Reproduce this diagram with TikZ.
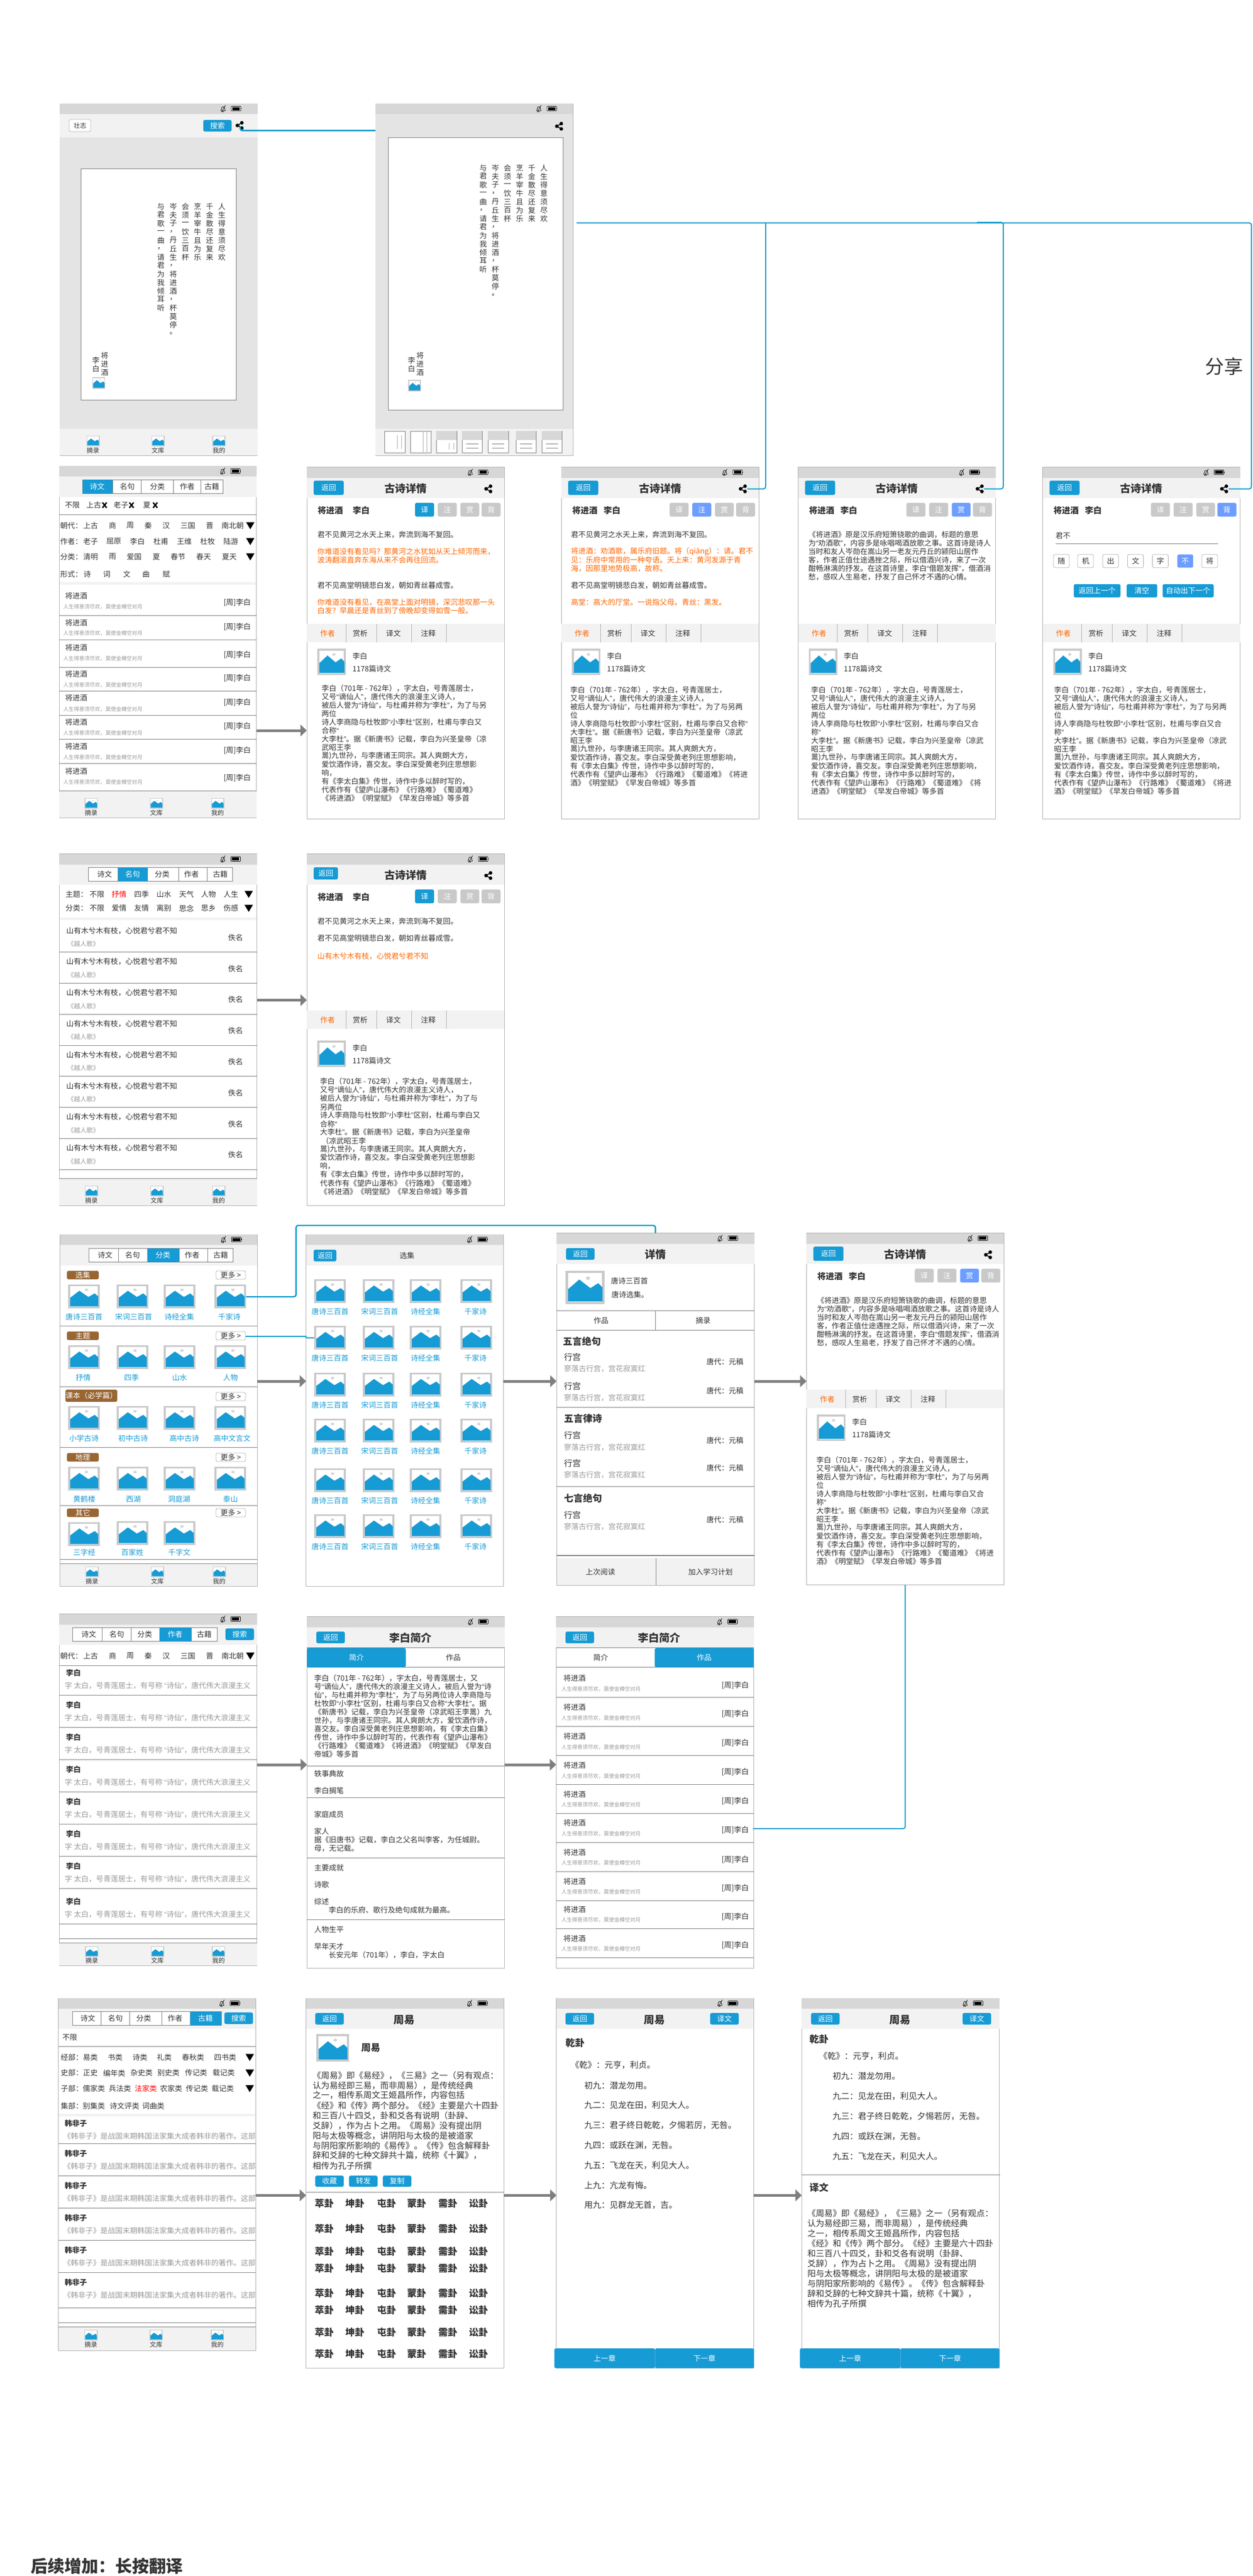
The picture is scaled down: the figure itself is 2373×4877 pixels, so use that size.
\documentclass[tikz,border=0pt]{standalone}
\usepackage{fontspec}
\setmainfont{Noto Sans CJK SC}
\newfontfamily\lf{Liberation Sans}
\usetikzlibrary{calc,arrows.meta}
\definecolor{ink}{HTML}{333333}
\definecolor{bluea}{HTML}{169BD5}
\definecolor{blueb}{HTML}{6D9EFF}
\definecolor{linkc}{HTML}{0099CC}
\definecolor{brownc}{HTML}{996633}
\definecolor{orangec}{HTML}{FF6600}
\definecolor{greyb}{HTML}{C9C9C9}
\definecolor{bandc}{HTML}{F2F2F2}
\definecolor{statc}{HTML}{D7D7D7}
\definecolor{bodyc}{HTML}{E4E4E4}
\definecolor{edgec}{HTML}{ADADAD}
\definecolor{linec}{HTML}{797979}
\definecolor{subc}{HTML}{999999}
\definecolor{arrc}{HTML}{7F7F7F}
\newcounter{tc}
\def\ql{{\lf “}}
\def\qr{{\lf ”}}
\tikzset{
  txt/.style={inner sep=0pt,outer sep=0pt,text=ink,font=\fontsize{14}{16}\selectfont},
  fs/.style={font=\fontsize{#1}{#1}\selectfont},
  bfs/.style={font=\fontsize{#1}{#1}\selectfont\bfseries},
  screenbox/.style={draw=edgec,line width=1pt,fill=white,inner sep=0pt,outer sep=0pt},
  hl/.style={draw=linec,line width=1pt},
  flow/.style={draw=arrc,line width=5pt,-{Triangle[length=12pt,width=22pt]}},
  link/.style={draw=linkc,line width=2pt,rounded corners=4pt},
  sub/.style={text=subc},
}
\newcommand{\Tx}[4][]{\stepcounter{tc}\edef\tn{t\arabic{tc}}\node[txt,anchor=west,#1] (\tn) at ({#2},{#3}) {#4};}
\newcommand{\Cx}[4][]{\stepcounter{tc}\edef\tn{t\arabic{tc}}\node[txt,anchor=center,#1] (\tn) at ({#2},{#3}) {#4};}
\newcommand{\Lines}[5][]{\expandafter\def\expandafter\tmplist\expandafter{#5}%
  \foreach \l [count=\i] in \tmplist {\pgfmathsetmacro\yy{#3+(\i-1)*#4}\Tx[#1]{#2}{\yy}{\l}}}
\newcommand{\VCol}[3]{\foreach \l [count=\i] in {#3} {\pgfmathsetmacro\yy{#2+(\i-1)*16}\Cx{#1}{\yy}{\l}}}
\newcommand{\Btn}[7][]{\fill[#6,rounded corners=3pt] ({#2},{#3}) rectangle ({#4},{#5});\Cx[text=white,#1]{(#2+#4)/2}{(#3+#5)/2}{#7}}
\newcommand{\OBtn}[6][]{\draw[edgec,fill=white,line width=.8pt,rounded corners=3pt] ({#2},{#3}) rectangle ({#4},{#5});\Cx[#1]{(#2+#4)/2}{(#3+#5)/2}{#6}}
\newcommand{\Img}[4]{\begin{scope}[shift={({#1},{#2})},x=#3pt,y=-#4pt]
  \fill[greyb] (0,0) rectangle (1,1);
  \fill[white] (.065,.07) rectangle (.935,.93);
  \fill[greyb!80] (.58,.22) circle (.055);
  \fill[bluea] (.07,.55) -- (.355,.26) -- (.64,.52) -- (.84,.37) -- (.95,.50) -- (.95,.92) -- (.07,.92) -- cycle;
\end{scope}}
\newcommand{\Share}[3]{\coordinate (#1) at (#2,#3);
  \begin{scope}[shift={(#2,#3)}]
  \draw[black,line width=1.6pt] (4,-5) -- (-4.5,0) -- (4,5);
  \fill[black] (-4.5,0) circle (3.4) (4,-5) circle (3.4) (4,5) circle (3.4);
  \end{scope}}
\newcommand{\Screen}[6]{%
  \node[screenbox,minimum width=#4pt,minimum height=#5pt,anchor=north west] (#1) at (#2,#3) {};
  \fill[bandc] (#2,#3) rectangle +(#4,#6);
  \fill[statc] (#2,#3) rectangle +(#4,20);
  \begin{scope}[shift={(#2,#3)}]
    \begin{scope}[shift={(309.5,9.7)}]
    \draw[black,line width=.8pt] (-4,4) -- (-3,0) .. controls (-3,-5) and (3,-5) .. (3,0) -- (4,4) -- cycle;
    \draw[black,line width=.8pt] (4.5,-6.5) -- (-3,6.5);
    \fill[black] (0,5.6) circle (1.1);
    \end{scope}
    \draw[black,line width=.9pt,fill=white,rounded corners=1pt] (325,5.3) rectangle (343,14);
    \fill[black] (326.5,6.6) rectangle (341,12.8);
    \fill[black] (343,8) rectangle (344,11.3);
  \end{scope}
}
\newcommand{\Nav}[9]{% bartop icontop label x1 x2 x3 sx1 sx2 bottom
  \fill[bandc] (#7,#1) rectangle (#8,#9);
  \draw[hl] (#7,#1) -- (#8,#1);
  \foreach \cx/\lab in {#4/摘录,#5/文库,#6/我的} {
    \Img{\cx-12.5}{#2}{25}{20}
    \Cx[fs=12]{\cx}{#3}{\lab}
  }
}
\newcommand{\Tabs}[9]{% x1 y1 x2 y2 dividers ax1 ax2 activeidx centres/labels
  \draw[linec,fill=white,line width=.8pt] (#1,#2) rectangle (#3,#4);
  \foreach \dv in {#5} {\draw[linec,line width=.8pt] (\dv,#2) -- (\dv,#4);}
  \fill[bluea,rounded corners=2pt] (#6,#2) rectangle (#7,#4);
  \foreach \cx/\lab [count=\i] in {#9} {
    \ifnum\i=#8\relax\def\tcol{white}\else\def\tcol{ink}\fi
    \Cx[text=\tcol]{\cx}{(#2+#4)/2}{\lab}
  }
}
\newcommand{\Tri}[2]{\fill[black] (#1-8,#2-6.5) -- (#1+8,#2-6.5) -- (#1,#2+7) -- cycle;}
\newcommand{\XMark}[2]{\draw[black,line width=2.6pt] (#1-4,#2-5) -- (#1+4,#2+5) (#1+4,#2-5) -- (#1-4,#2+5);}
\def\retA{25.5}\def\retB{52.5}\def\retC{70}
\newcommand{\Detail}[7]{% name x y activeidx activecol namegap avatardy
  \Screen{#1}{#2}{#3}{374}{666}{58.5}
  \begin{scope}[shift={(#2,#3)}]
    \Btn{13}{\retA}{\retC}{\retB}{bluea}{返回}
    \Cx[bfs=20]{187}{40.5}{古诗详情}
    \Share{sh#1}{344}{41}
    \Tx[bfs=16]{20.5}{81.5}{将进酒}
    \Tx[bfs=16]{#6}{81.5}{李白}
    \foreach \bx/\by/\lab [count=\i] in {205/241/译,248/284/注,291/326.5/赏,331/367/背} {
      \ifnum\i=#4\relax\def\bcol{#5}\else\def\bcol{greyb}\fi
      \Btn{\bx}{67.5}{\by}{93.5}{\bcol}{\lab}
    }
    \fill[bandc] (0,296.5) rectangle (374,331.5);
    \foreach \dv in {74,132,198,264} {\draw[edgec,line width=.8pt] (\dv,296.5) -- (\dv,331.5);}
    \Cx[text=orangec]{39.4}{314.5}{作者}
    \Cx{101}{314.5}{赏析}
    \Cx{164}{314.5}{译文}
    \Cx{230}{314.5}{注释}
    \Img{20}{343.5+#7}{54}{50}
    \Tx{86.5}{357.5+#7}{李白}
    \Tx{86.5}{381.5+#7}{1178篇诗文}
  \end{scope}
}
\def\bioD{李白（701年 - 762年），字太白，号青莲居士，,又号\ql 谪仙人\qr ，唐代伟大的浪漫主义诗人，,被后人誉为\ql 诗仙\qr ，与杜甫并称为\ql 李杜\qr ，为了与另,两位,诗人李商隐与杜牧即\ql 小李杜\qr 区别，杜甫与李白又,合称\ql,大李杜\qr 。据《新唐书》记载，李白为兴圣皇帝（凉,武昭王李,暠)九世孙，与李唐诸王同宗。其人爽朗大方，,爱饮酒作诗，喜交友。李白深受黄老列庄思想影,响，,有《李太白集》传世，诗作中多以醉时写的，,代表作有《望庐山瀑布》《行路难》《蜀道难》,《将进酒》《明堂赋》《早发白帝城》等多首}
\def\bioE{李白（701年 - 762年），字太白，号青莲居士，,又号\ql 谪仙人\qr ，唐代伟大的浪漫主义诗人，,被后人誉为\ql 诗仙\qr ，与杜甫并称为\ql 李杜\qr ，为了与另两,位,诗人李商隐与杜牧即\ql 小李杜\qr 区别，杜甫与李白又合称\ql,大李杜\qr 。据《新唐书》记载，李白为兴圣皇帝（凉武,昭王李,暠)九世孙，与李唐诸王同宗。其人爽朗大方，,爱饮酒作诗，喜交友。李白深受黄老列庄思想影响，,有《李太白集》传世，诗作中多以醉时写的，,代表作有《望庐山瀑布》《行路难》《蜀道难》《将进,酒》《明堂赋》《早发白帝城》等多首}
\def\bioF{李白（701年 - 762年），字太白，号青莲居士，,又号\ql 谪仙人\qr ，唐代伟大的浪漫主义诗人，,被后人誉为\ql 诗仙\qr ，与杜甫并称为\ql 李杜\qr ，为了与另,两位,诗人李商隐与杜牧即\ql 小李杜\qr 区别，杜甫与李白又合,称\ql,大李杜\qr 。据《新唐书》记载，李白为兴圣皇帝（凉武,昭王李,暠)九世孙，与李唐诸王同宗。其人爽朗大方，,爱饮酒作诗，喜交友。李白深受黄老列庄思想影响，,有《李太白集》传世，诗作中多以醉时写的，,代表作有《望庐山瀑布》《行路难》《蜀道难》《将,进酒》《明堂赋》《早发白帝城》等多首}
\def\bioG{李白（701年 - 762年），字太白，号青莲居士，,又号\ql 谪仙人\qr ，唐代伟大的浪漫主义诗人，,被后人誉为\ql 诗仙\qr ，与杜甫并称为\ql 李杜\qr ，为了与另两,位,诗人李商隐与杜牧即\ql 小李杜\qr 区别，杜甫与李白又合,称\ql,大李杜\qr 。据《新唐书》记载，李白为兴圣皇帝（凉武,昭王李,暠)九世孙，与李唐诸王同宗。其人爽朗大方，,爱饮酒作诗，喜交友。李白深受黄老列庄思想影响，,有《李太白集》传世，诗作中多以醉时写的，,代表作有《望庐山瀑布》《行路难》《蜀道难》《将进,酒》《明堂赋》《早发白帝城》等多首}
\def\bioH{李白（701年 - 762年），字太白，号青莲居士，,又号\ql 谪仙人\qr ，唐代伟大的浪漫主义诗人，,被后人誉为\ql 诗仙\qr ，与杜甫并称为\ql 李杜\qr ，为了与,另两位,诗人李商隐与杜牧即\ql 小李杜\qr 区别，杜甫与李白又,合称\ql,大李杜\qr 。据《新唐书》记载，李白为兴圣皇帝,\ （凉武昭王李,暠)九世孙，与李唐诸王同宗。其人爽朗大方，,爱饮酒作诗，喜交友。李白深受黄老列庄思想影,响，,有《李太白集》传世，诗作中多以醉时写的，,代表作有《望庐山瀑布》《行路难》《蜀道难》,《将进酒》《明堂赋》《早发白帝城》等多首}
\def\shang{《将进酒》原是汉乐府短箫铙歌的曲调，标题的意思,为\ql 劝酒歌\qr ，内容多是咏唱喝酒放歌之事。这首诗是诗人,当时和友人岑勋在嵩山另一老友元丹丘的颍阳山居作,客，作者正值仕途遇挫之际，所以借酒兴诗，来了一次,酣畅淋漓的抒发。在这首诗里，李白\ql 借题发挥\qr ，借酒消,愁，感叹人生易老，抒发了自己怀才不遇的心情。}
\def\zhouyi{《周易》即《易经》，《三易》之一（另有观点：,认为易经即三易，而非周易），是传统经典,之一，相传系周文王姬昌所作，内容包括,《经》和《传》两个部分。《经》主要是六十四卦,和三百八十四爻，卦和爻各有说明（卦辞、,爻辞），作为占卜之用。《周易》没有提出阴,阳与太极等概念，讲阴阳与太极的是被道家,与阴阳家所影响的《易传》。《传》包含解释卦,辞和爻辞的七种文辞共十篇，统称《十翼》，,相传为孔子所撰}
\begin{document}
\begin{tikzpicture}[x=1pt,y=-1pt]
\useasboundingbox (0,0) rectangle (2373,4877);
\fill[white] (0,0) rectangle (2373,4877);

%% ---------- row 1
\Screen{scrA}{113}{196}{374.6}{666}{64}
\fill[bodyc] (113,260) rectangle (487.6,812);
\fill[bandc] (113,812) rectangle (487.6,862);
\draw[linec,fill=white,line width=1pt] (153.7,319.6) rectangle (447.6,757.5);
\OBtn[fs=12]{131}{226}{172}{249}{壮志}
\Btn{385}{227}{438.5}{249}{bluea}{搜索}
\Share{shA}{454}{237.5}
\VCol{420}{391}{人,生,得,意,须,尽,欢}
\VCol{397}{391}{千,金,散,尽,还,复,来}
\VCol{374}{391}{烹,羊,宰,牛,且,为,乐}
\VCol{351}{391}{会,须,一,饮,三,百,杯}
\VCol{328}{391}{岑,夫,子,，,丹,丘,生,，,将,进,酒,，,杯,莫,停,。}
\VCol{304.5}{391}{与,君,歌,一,曲,，,请,君,为,我,倾,耳,听}
\VCol{198}{673}{将,进,酒}
\VCol{181.7}{682.5}{李,白}
\Img{174.7}{714}{24.5}{22}
\foreach \cx/\lab in {176/摘录,299/文库,414.6/我的} {\Img{\cx-12.5}{825}{25}{20}\Cx[fs=12]{\cx}{853}{\lab}}

\Screen{scrB}{711}{196}{374}{666}{64}
\fill[bodyc] (711,216) rectangle (1085,812);
\fill[bandc] (711,812) rectangle (1085,862);
\draw[linec,fill=white,line width=1pt] (735,260.6) rectangle (1066,776);
\Share{shB}{1059}{239}
\VCol{1030}{318}{人,生,得,意,须,尽,欢}
\VCol{1007}{318}{千,金,散,尽,还,复,来}
\VCol{984}{318}{烹,羊,宰,牛,且,为,乐}
\VCol{961}{318}{会,须,一,饮,三,百,杯}
\VCol{938}{318}{岑,夫,子,，,丹,丘,生,，,将,进,酒,，,杯,莫,停,。}
\VCol{915}{318}{与,君,歌,一,曲,，,请,君,为,我,倾,耳,听}
\VCol{795.6}{673}{将,进,酒}
\VCol{779.4}{682.5}{李,白}
\Img{773}{719}{24}{22}
\foreach \xa/\xb in {728/767,777/816} {\draw[linec,fill=white,line width=.8pt] (\xa,816) rectangle (\xb,857.5);}
\foreach \xa/\xb in {826/865,875/913,924/963,977/1015,1026/1064} {
  \draw[linec,fill=white,line width=.8pt] (\xa,816) rectangle (\xb,857.5);
  \fill[statc] (\xa,816) rectangle (\xb,832.5);}
\draw[edgec,line width=.8pt] (752,824) -- (752,849.5) (760.5,824) -- (760.5,849.5) (801,816) -- (801,857.5) (808,816) -- (808,857.5);
\draw[edgec,line width=.8pt] (850,839) -- (850,851) (859,839) -- (859,851);
\foreach \xa in {883,932,985,1034} {\draw[linec,line width=.8pt] (\xa,840) -- ++(23,0) (\xa,848) -- ++(23,0);}

\draw[link,line width=3pt] ($(shA)+(1,7)$) |- (scrB.west |- 0,247);
\coordinate (busL) at (1092,422);
\Cx[fs=36]{2318}{693.5}{分享}

%% ---------- row 2
\Screen{scrC}{112}{882.3}{373.5}{666}{58.7}
\Tabs{156.6}{908}{422}{934.5}{213,267,328,380.5}{156.6}{213}{1}{184/诗文,241/名句,298/分类,354.5/作者,401/古籍}
\Tx{123}{956.4}{不限}
\Tx{163.5}{956.4}{上古}\XMark{198}{956.4}
\Tx{215}{956.4}{老子}\XMark{249}{956.4}
\Tx{271}{956.4}{夏}\XMark{294}{956.4}
\draw[hl] (112,974.7) -- (485.5,974.7);
\Tx{114}{995}{朝代：}
\foreach \cx/\lab in {171.5/上古,213/商,246.7/周,280.6/秦,314.5/汉,355.8/三国,397/晋,440.7/南北朝} {\Cx{\cx}{995}{\lab}}
\Tri{474}{995}
\Tx{114}{1025}{作者：}
\foreach \cx/\lab in {171.5/老子,215.7/屈原,260/李白,304.7/杜甫,349/王维,393/杜牧,437/陆游} {\Cx{\cx}{1025}{\lab}}
\Tri{474}{1025}
\Tx{114}{1054}{分类：}
\foreach \cx/\lab in {171.5/清明,213/雨,254/爱国,296/夏,337/春节,385.6/春天,434.4/夏天} {\Cx{\cx}{1054}{\lab}}
\Tri{474}{1054}
\Tx{114}{1087}{形式：}
\foreach \cx/\lab in {165/诗,202/词,240/文,276.6/曲,315/赋} {\Cx{\cx}{1087}{\lab}}
\fill[bandc] (112.5,1102.4) rectangle (485,1107);
\foreach \ty/\sy/\ry/\dv in {1128/1148.4/1141/1165,1179/1199/1187/1211,1226/1246.6/1239.5/1263,1276/1296.6/1284/1308.7,1321.6/1342.6/1330/1354.6,1366.7/1387.7/1375/1399,1413/1433.7/1421/1445} {
  \Tx{123.3}{\ty}{将进酒}
  \Tx[fs=10,sub]{119.9}{\sy}{人生得意须尽欢，莫使金樽空对月}
  \Tx{423.5}{\ry}{[周]李白}
  \draw[hl] (112,\dv) -- (485.5,\dv);
}
\Tx{123.3}{1460}{将进酒}
\Tx[fs=10,sub]{119.9}{1480.5}{人生得意须尽欢，莫使金樽空对月}
\Tx{423.5}{1473}{[周]李白}
\Nav{1497.5}{1511}{1538.6}{172.7}{296}{412}{112}{485.5}{1548.3}

\Detail{scrD}{581}{884.5}{1}{bluea}{87}{0}
\Lines[]{601}{1012}{16}{君不见黄河之水天上来，奔流到海不复回。}
\Lines[text=orangec]{601}{1044}{16}{你难道没有看见吗？那黄河之水犹如从天上倾泻而来，,波涛翻滚直奔东海从来不会再往回流。}
\Lines[]{601}{1108}{16}{君不见高堂明镜悲白发，朝如青丝暮成雪。}
\Lines[text=orangec]{601}{1140}{16}{你难道没有看见，在高堂上面对明镜，深沉悲叹那一头,白发？早晨还是青丝到了傍晚却变得如雪一般。}
\Lines[]{609}{1303}{16}{\bioD}

\Detail{scrE}{1063}{884.5}{2}{blueb}{80}{0}
\Lines[]{1081.4}{1012}{16}{君不见黄河之水天上来，奔流到海不复回。}
\Lines[text=orangec]{1081.4}{1044}{16}{将进酒：劝酒歌，属乐府旧题。将（qiāng）：请。君不,见：乐府中常用的一种夸语。天上来：黄河发源于青,海，因那里地势极高，故称。}
\Lines[]{1081.4}{1108}{16}{君不见高堂明镜悲白发，朝如青丝暮成雪。}
\Lines[text=orangec]{1081.4}{1140}{16}{高堂：高大的厅堂。一说指父母。青丝：黑发。}
\Lines[]{1080}{1306}{16}{\bioE}

\Detail{scrF}{1511.6}{884.5}{3}{blueb}{80}{0}
\Lines[]{1531}{1012}{16}{\shang}
\Lines[]{1536}{1306}{16}{\bioF}

\Detail{scrG}{1974.5}{884.5}{4}{blueb}{80}{0}
\Tx{1999}{1015}{君不}
\draw[linec,line width=1pt] (1999,1029.6) -- (2307,1029.6);
\foreach \cx/\lab in {2010/随,2056/机,2103.3/出,2150.5/文,2197.6/字,2291/将} {\OBtn{\cx-15}{1049.7}{\cx+15}{1074.7}{\lab}}
\Btn{2229.7}{1049.7}{2259.7}{1074.7}{blueb}{不}
\Btn{2033.5}{1106}{2122}{1131}{bluea}{返回上一个}
\Btn{2133.6}{1106}{2191.7}{1131}{bluea}{清空}
\Btn{2201.8}{1106}{2298.6}{1131}{bluea}{自动出下一个}
\Lines[]{1996.4}{1306}{16}{\bioG}

\draw[flow] (scrC.east |- 0,1383) -- (scrD.west |- 0,1383);
\draw[link] ($(shscrE)+(8,0)$) -| (1450,422);
\draw[link] ($(shscrF)+(8,0)$) -| (1900,421) -- (1850,421);
\draw[link] ($(shscrG)+(8,0)$) -| (2370,422) -- (busL);

%% ---------- row 3
\Screen{scrH}{112.4}{1616.6}{374.3}{665.4}{58.4}
\Tabs{167.5}{1642}{440.7}{1668.5}{223.8,279.4,338.6,392.5}{223.8}{279.4}{2}{198/诗文,251/名句,307/分类,362.7/作者,417.2/古籍}
\Tx{124}{1693}{主题：}
\foreach \cx/\lab in {183.6/不限,268/四季,310.4/山水,353/天气,394.8/人物,437.3/人生} {\Cx{\cx}{1693}{\lab}}
\Cx[text=red]{225.5}{1693}{抒情}
\Tri{471}{1693}
\Tx{124}{1719.5}{分类：}
\foreach \cx/\lab in {183.6/不限,225.5/爱情,268/友情,310.4/离别,353/思念,394.8/思乡,437.3/伤感} {\Cx{\cx}{1719.5}{\lab}}
\Tri{471}{1719.5}
\fill[bandc] (112.9,1737) rectangle (486.2,1742);
\foreach \k in {0,...,7} {
  \pgfmathsetmacro\ty{1762+58.8*\k}\pgfmathsetmacro\sy{1787+58.8*\k}\pgfmathsetmacro\ry{1775+58.8*\k}\pgfmathsetmacro\dv{1802.6+58.8*\k}
  \Tx{125.6}{\ty}{山有木兮木有枝，心悦君兮君不知}
  \Tx[fs=12,sub]{127.9}{\sy}{《越人歌》}
  \Cx{446}{\ry}{佚名}
  \draw[hl] (112.4,\dv) -- (486.7,\dv);
}
\Nav{2231.4}{2245}{2272.7}{173}{297}{414}{112.4}{486.7}{2281.5}

\def\retA{25.4}\def\retB{48.4}\def\retC{59}
\Detail{scrI}{581}{1616.6}{1}{bluea}{87}{10}
\def\retA{25.5}\def\retB{52.5}\def\retC{70}
\Lines[]{601}{1744}{32}{君不见黄河之水天上来，奔流到海不复回。,君不见高堂明镜悲白发，朝如青丝暮成雪。}
\Tx[text=orangec]{601}{1810.4}{山有木兮木有枝，心悦君兮君不知}
\Lines[]{606}{2047.7}{16}{\bioH}
\draw[flow] (scrH.east |- 0,1893.5) -- (scrI.west |- 0,1893.5);

%% ---------- row 4
\Screen{scrJ}{113.5}{2337}{373.5}{666.5}{59}
\Tabs{168.6}{2363.6}{441.3}{2389.5}{224.3,279.4,339,393}{279.4}{339}{3}{199/诗文,251/名句,308.7/分类,363.8/作者,417.8/古籍}
\newcommand{\Sec}[7]{% tagx2 tagy1 tagy2 tagtext morey1 morey2 divider
  \Btn{126.7}{#2}{#1}{#3}{brownc}{#4}
  \OBtn{409}{#5}{465}{#6}{更多 >}
  \draw[hl] (113.5,#7) -- (487,#7);}
\Sec{187}{2406}{2422}{选集}{2406}{2422}{2510.4}
\Sec{187}{2521}{2537}{主题}{2521}{2537}{2625.6}
\fill[brownc,rounded corners=3pt] (123.9,2631) rectangle (222,2654);
\Cx[text=white]{173}{2642.5}{课本（必学篇）}
\OBtn{409}{2636}{465}{2652}{更多 >}
\draw[hl] (113.5,2740.4) -- (487,2740.4);
\Sec{187}{2751}{2767}{地理}{2751}{2767}{2850.6}
\Sec{187}{2856}{2872}{其它}{2856}{2872}{2952.4}
\foreach \cx in {129,220.9,309.9} {\Img{\cx}{2432}{60}{45}\Img{\cx}{2547}{60}{45}\Img{\cx}{2662}{60}{45}\Img{\cx}{2777}{60}{45}}
\foreach \yt in {2432,2547,2662,2777} {\Img{406.3}{\yt}{60}{45}}
\Img{129}{2882}{60}{45}\Img{220.9}{2880}{60}{45}\Img{309.9}{2880}{60}{45}
\foreach \cx/\lab in {159/唐诗三百首,253/宋词三百首,339.7/诗经全集,434.4/千家诗} {\Cx[text=bluea]{\cx}{2493}{\lab}}
\foreach \cx/\lab in {157.7/抒情,249/四季,340/山水,436.7/人物} {\Cx[text=bluea]{\cx}{2607.8}{\lab}}
\foreach \cx/\lab in {159/小学古诗,252/初中古诗,349/高中古诗,439.6/高中文言文} {\Cx[text=bluea]{\cx}{2723.4}{\lab}}
\foreach \cx/\lab in {159.5/黄鹤楼,252.5/西湖,339/洞庭湖,436.7/泰山} {\Cx[text=bluea]{\cx}{2838}{\lab}}
\foreach \cx/\lab in {159.5/三字经,250.7/百家姓,339.7/千字文} {\Cx[text=bluea]{\cx}{2939.5}{\lab}}
\Nav{2960.4}{2966}{2994}{174}{298}{415}{113.5}{487}{3003}

\Screen{scrK}{579.7}{2337}{373.7}{666.5}{59}
\Btn{594}{2366}{637}{2388}{bluea}{返回}
\Cx{770.8}{2377.4}{选集}
\foreach \yt/\yl in {2422/2483,2510/2571,2599/2660.4,2686/2747,2780/2841,2867/2928} {
  \foreach \ix/\cx/\lab in {595/625/唐诗三百首,687/719/宋词三百首,776/805.8/诗经全集,872/900.6/千家诗} {
    \Img{\ix}{\yt}{60}{45}
    \Cx[text=bluea]{\cx}{\yl}{\lab}
  }
}

\Screen{scrL}{1054}{2334.6}{374.6}{666.4}{58.4}
\Btn{1072}{2363}{1126}{2385}{bluea}{返回}
\Cx[bfs=20]{1241.7}{2375}{详情}
\Img{1070.8}{2406}{74}{63}
\Tx{1157}{2425}{唐诗三百首}
\Tx{1158}{2451}{唐诗选集。}
\draw[hl] (1054,2481.4) -- (1428.6,2481.4) (1054,2518.5) -- (1428.6,2518.5) (1241.7,2481.4) -- (1241.7,2518.5);
\Cx{1138.4}{2500}{作品}
\Cx{1331.6}{2500}{摘录}
\Tx[bfs=18]{1066}{2539.5}{五言绝句}
\Tx[bfs=18]{1068}{2686}{五言律诗}
\Tx[bfs=18]{1068}{2836.3}{七言绝句}
\foreach \ty/\sy/\ry in {2569/2591/2578,2624/2646/2633,2717.6/2740/2727.4,2770/2792/2779,2868/2890/2877.4} {
  \Tx[fs=16]{1068}{\ty}{行宫}
  \Tx[sub]{1068}{\sy}{寥落古行宫，宫花寂寞红}
  \Tx{1338}{\ry}{唐代：元稹}
}
\draw[hl] (1054,2664.5) -- (1428.6,2664.5) (1054,2814.5) -- (1428.6,2814.5);
\draw[linec,line width=1.5pt] (1054,2945) -- (1428.6,2945);
\fill[bandc] (1054.5,2950) rectangle (1428,3000.5);
\draw[linec,line width=.8pt] (1242.4,2950) -- (1242.4,3001);
\Cx{1137}{2976}{上次阅读}
\Cx{1345.7}{2976}{加入学习计划}

\Detail{scrM}{1527.4}{2334.6}{3}{blueb}{80}{0}
\Lines[]{1547}{2462}{16}{\shang}
\Lines[]{1546}{2764}{16}{\bioG}

\draw[flow] (scrJ.east |- 0,2615) -- (scrK.west |- 0,2615);
\draw[flow] (scrK.east |- 0,2615) -- (scrL.west |- 0,2615);
\draw[flow] (scrL.east |- 0,2615) -- (scrM.west |- 0,2615);
\coordinate (pick) at (466,2455);
\coordinate (more) at (465,2530);
\coordinate (kimg) at (595,2532.8);
\draw[link,line width=2.5pt] (pick) -| (560.7,2320) -| (scrL.north);
\draw[link,rounded corners=1pt] (more) -- (579.7,2530) -- (579.7,2532.8) -- (kimg);

%% ---------- row 5
\Screen{scrN}{112.4}{3055.6}{374.3}{666}{58.4}
\Tabs{137.6}{3081.5}{411}{3107.4}{193.3,247.9,302.4,362.7}{302.4}{362.7}{4}{168/诗文,221/名句,274/分类,331.7/作者,386.8/古籍}
\Btn{427}{3083}{481}{3105}{bluea}{搜索}
\Tx{114}{3135}{朝代：}
\foreach \cx/\lab in {171.5/上古,213/商,246.7/周,280.6/秦,314.5/汉,355.8/三国,397/晋,440.7/南北朝} {\Cx{\cx}{3135}{\lab}}
\Tri{474}{3135}
\draw[hl] (112.4,3153.4) -- (486.7,3153.4);
\foreach \ty/\sy/\dv in {3167/3191/3209.6,3228/3252/3270.4,3289/3313/3331.5,3350/3374/3392,3411/3435/3453.4,3472/3496/3514.5,3533/3557/3575,3600/3624.4/3642} {
  \Tx[bfs=14]{125}{\ty}{李白}
  \Tx[sub]{122.7}{\sy}{字 太白，号青莲居士，有号称 \ql 诗仙\qr ，唐代伟大浪漫主义}
  \draw[hl] (112.4,\dv) -- (486.7,\dv);
}
\draw[hl] (112.4,3670.4) -- (486.7,3670.4);
\Nav{3678.4}{3685}{3712}{173.8}{298}{413.8}{112.4}{486.7}{3721.4}

\Screen{scrO}{581.4}{3060.5}{374.3}{666}{59}
\Btn{599}{3089}{653}{3111}{bluea}{返回}
\Cx[bfs=20]{777}{3101}{李白简介}
\draw[hl] (581.4,3119.5) -- (955.7,3119.5) (581.4,3156.5) -- (955.7,3156.5);
\fill[bluea,rounded corners=3pt] (581.4,3120) rectangle (768.5,3156.5);
\Cx[text=white]{675}{3138}{简介}
\Cx{858.6}{3138}{作品}
\Lines[]{595}{3177}{16}{李白（701年 - 762年），字太白，号青莲居士，又,号\ql 谪仙人\qr ，唐代伟大的浪漫主义诗人，被后人誉为\ql 诗,仙\qr ，与杜甫并称为\ql 李杜\qr ，为了与另两位诗人李商隐与,杜牧即\ql 小李杜\qr 区别，杜甫与李白又合称\ql 大李杜\qr 。据,《新唐书》记载，李白为兴圣皇帝（凉武昭王李暠）九,世孙，与李唐诸王同宗。其人爽朗大方，爱饮酒作诗，,喜交友。李白深受黄老列庄思想影响，有《李太白集》,传世，诗作中多以醉时写的，代表作有《望庐山瀑布》,《行路难》《蜀道难》《将进酒》《明堂赋》《早发白,帝城》等多首}
\draw[hl] (581.4,3343.6) -- (955.7,3343.6) (581.4,3403.4) -- (955.7,3403.4) (581.4,3517) -- (955.7,3517) (581.4,3634.6) -- (955.7,3634.6);
\Tx{595}{3358}{轶事典故}
\Tx{595}{3390.4}{李白搁笔}
\Tx{595}{3435}{家庭成员}
\Tx{595}{3467}{家人}
\Tx{595}{3483}{据《旧唐书》记载，李白之父名叫李客，为任城尉。}
\Tx{595}{3499}{母，无记载。}
\Tx{595}{3536.4}{主要成就}
\Tx{595}{3568.6}{诗歌}
\Tx{595}{3600}{综述}
\Tx{622.7}{3616}{李白的乐府、歌行及绝句成就为最高。}
\Tx{595}{3653.4}{人物生平}
\Tx{595}{3685}{早年天才}
\Tx{622.7}{3701}{长安元年（701年），李白，字太白}

\Screen{scrP}{1053.3}{3060.5}{374.4}{666}{59}
\Btn{1071}{3089}{1125}{3111}{bluea}{返回}
\Cx[bfs=20]{1248.7}{3101}{李白简介}
\draw[hl] (1053.3,3119.5) -- (1427.7,3119.5);
\fill[bluea,rounded corners=3pt] (1240,3120) rectangle (1427.7,3156.5);
\draw[hl] (1053.3,3156.5) -- (1427.7,3156.5);
\Cx{1137.7}{3138}{简介}
\Cx[text=white]{1333.7}{3138}{作品}
\foreach \ty/\sy/\ry/\dv in {3177/3197.6/3190.4/3213.7,3232/3252.5/3245/3268.6,3287/3307.4/3300/3323.5,3341.8/3362.3/3355/3378.4,3396.7/3417/3410/3433.3,3451.6/3472/3465/3488.7,3507/3527/3520.4/3543.6,3562/3582/3575/3598.5,3615/3635/3628.4/3651.6,3670/3690/3683/3706.5} {
  \Tx{1067}{\ty}{将进酒}
  \Tx[fs=10,sub]{1063.3}{\sy}{人生得意须尽欢，莫使金樽空对月}
  \Tx{1366.7}{\ry}{[周]李白}
  \draw[hl] (1053.3,\dv) -- (1427.7,\dv);
}
\draw[flow] (scrN.east |- 0,3341) -- (scrO.west |- 0,3341);
\draw[flow] (scrO.east |- 0,3341) -- (scrP.west |- 0,3341);
\coordinate (authorrow) at (1426,3462);
\draw[link] (scrM.south) |- (authorrow);

%% ---------- row 6
\Screen{scrQ}{110.7}{3783}{373.7}{667.6}{58}
\Tabs{137.3}{3808.3}{419}{3834.5}{191.6,245.6,306.4,360.4}{360.4}{419}{5}{166.3/诗文,218.6/名句,272/分类,331.7/作者,389/古籍}
\Btn{425}{3810}{479}{3832}{bluea}{搜索}
\Tx{118}{3857}{不限}
\draw[hl] (110.7,3874.7) -- (484.4,3874.7);
\Tx{115}{3895}{经部：}
\foreach \cx/\lab in {171/易类,218/书类,265/诗类,311/礼类,365.5/春秋类,426.4/四书类} {\Cx{\cx}{3895}{\lab}}
\Tri{473}{3895}
\Tx{115}{3924.6}{史部：}
\foreach \cx/\lab in {171/正史,216.3/编年类,268/杂史类,319/别史类,371.3/传记类,423.5/载记类} {\Cx{\cx}{3924.6}{\lab}}
\Tri{473}{3924.6}
\Tx{115}{3954}{子部：}
\foreach \cx/\lab in {177.8/儒家类,227/兵法类,324/农家类,373/传记类,421.8/载记类} {\Cx{\cx}{3954}{\lab}}
\Cx[text=red]{276}{3954}{法家类}
\Tri{473}{3954}
\Tx{115}{3987}{集部：}
\foreach \cx/\lab in {177.8/别集类,235.8/诗文评类,290.3/词曲类} {\Cx{\cx}{3987}{\lab}}
\fill[bandc] (111.2,4002) rectangle (483.9,4007);
\foreach \ty/\sy/\dv in {4020/4044/4058.4,4077.3/4101/4119.5,4138.4/4162/4180.6,4199.5/4223/4241.6,4260.5/4284/4302.7,4321/4345/4369.6} {
  \Tx[bfs=14]{122.7}{\ty}{韩非子}
  \Tx[sub]{120}{\sy}{《韩非子》是战国末期韩国法家集大成者韩非的著作。这部}
  \draw[hl] (110.7,\dv) -- (484.4,\dv);
}
\draw[hl] (110.7,4397.7) -- (484.4,4397.7);
\Nav{4405.5}{4411}{4439}{172}{295.5}{411.5}{110.7}{484.4}{4450}

\Screen{scrR}{579.7}{3783}{374.3}{700.5}{58}
\Btn{597}{3811}{651}{3833}{bluea}{返回}
\Cx[bfs=20]{765.7}{3824.8}{周易}
\Img{599}{3851}{62}{52}
\Tx[bfs=18]{684.7}{3877}{周易}
\Lines[fs=16]{592}{3929}{19}{\zhouyi}
\Btn{597}{4119}{651}{4140}{bluea}{收藏}
\Btn{661}{4119}{715}{4140}{bluea}{转发}
\Btn{725}{4119}{779}{4140}{bluea}{复制}
\draw[hl] (579.7,4150.5) -- (954,4150.5);
\foreach \gy in {4171.8,4219.8,4263,4295,4342,4374,4415.7,4457} {
  \foreach \cx/\lab in {614.7/萃卦,672.7/坤卦,732.4/屯卦,789.8/蒙卦,848.9/需卦,906.9/讼卦} {
    \Cx[bfs=18]{\cx}{\gy}{\lab}
  }
}

\Screen{scrS}{1053.9}{3783}{373.1}{700.5}{58}
\Btn{1071}{3811}{1125}{3833}{bluea}{返回}
\Cx[bfs=20]{1239.3}{3824.8}{周易}
\Btn{1345}{3811}{1399}{3833}{bluea}{译文}
\Tx[bfs=18]{1071}{3868}{乾卦}
\Tx[fs=16]{1081}{3909.6}{《乾》：元亨，利贞。}
\Lines[fs=16]{1106.7}{3948}{37.8}{初九：潜龙勿用。,九二：见龙在田，利见大人。,九三：君子终日乾乾，夕惕若厉，无咎。,九四：或跃在渊，无咎。,九五：飞龙在天，利见大人。,上九：亢龙有悔。,用九：见群龙无首，吉。}
\Btn{1049.9}{4446}{1240.4}{4483.5}{bluea}{上一章}
\Btn{1240.4}{4446}{1428}{4483.5}{bluea}{下一章}

\Screen{scrT}{1518.3}{3783}{374.3}{700.5}{58}
\Btn{1536}{3811}{1590}{3833}{bluea}{返回}
\Cx[bfs=20]{1704.3}{3824.8}{周易}
\Btn{1823}{3811}{1877}{3833}{bluea}{译文}
\Tx[bfs=18]{1533}{3860.6}{乾卦}
\Tx[fs=16]{1551}{3892.6}{《乾》：元亨，利贞。}
\Lines[fs=16]{1576.8}{3930.4}{38.1}{初九：潜龙勿用。,九二：见龙在田，利见大人。,九三：君子终日乾乾，夕惕若厉，无咎。,九四：或跃在渊，无咎。,九五：飞龙在天，利见大人。}
\draw[hl] (1517.5,4117.6) -- (1894,4117.6);
\Tx[bfs=18]{1533}{4141.8}{译文}
\Lines[fs=16]{1529}{4190.7}{19}{\zhouyi}
\Btn{1514.8}{4446}{1705.4}{4483.5}{bluea}{上一章}
\Btn{1705.4}{4446}{1893}{4483.5}{bluea}{下一章}

\draw[flow] (scrQ.east |- 0,4156.3) -- (scrR.west |- 0,4156.3);
\draw[flow] (scrR.east |- 0,4156.3) -- (scrS.west |- 0,4156.3);
\draw[flow] (scrS.east |- 0,4156.3) -- (scrT.west |- 0,4156.3);

%% ---------- footer
\Tx[bfs=32]{58}{4858}{后续增加：长按翻译}
\end{tikzpicture}
\end{document}
